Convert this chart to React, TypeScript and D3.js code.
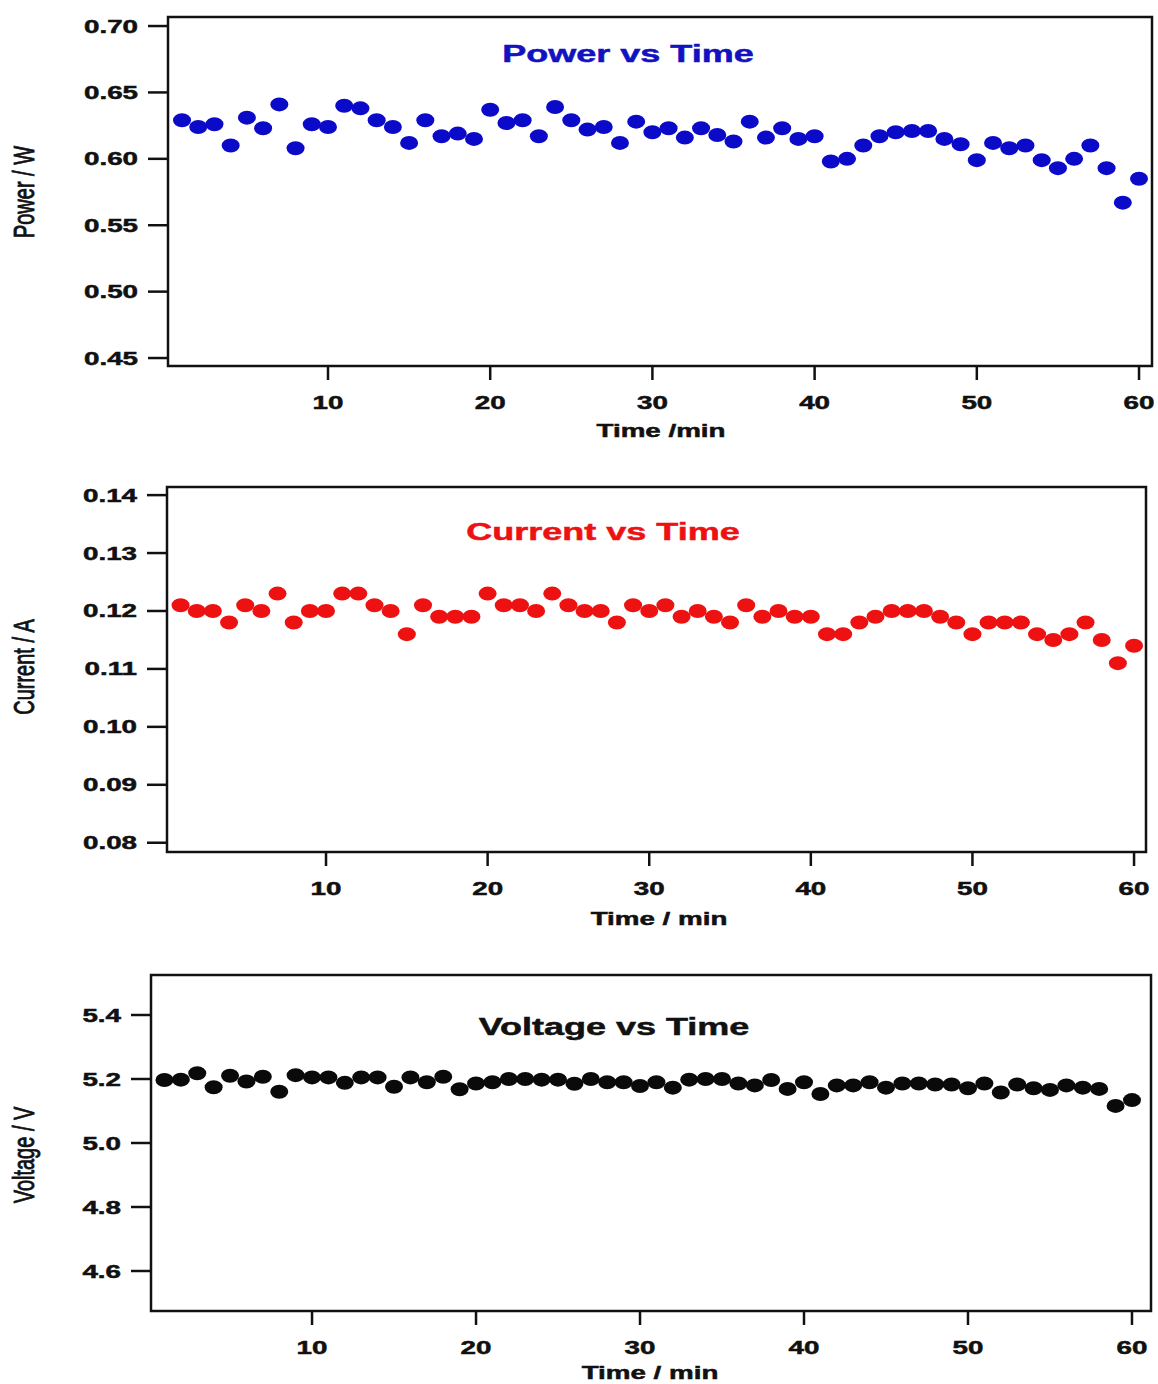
import React from "react";
import * as d3 from "d3";

const time: number[] = d3.range(1, 61);

const power: number[] = [
  0.629, 0.624, 0.626, 0.610, 0.631, 0.623, 0.641, 0.608, 0.626, 0.624,
  0.640, 0.638, 0.629, 0.624, 0.612, 0.629, 0.617, 0.619, 0.615, 0.637,
  0.627, 0.629, 0.617, 0.639, 0.629, 0.622, 0.624, 0.612, 0.628, 0.620,
  0.623, 0.616, 0.623, 0.618, 0.613, 0.628, 0.616, 0.623, 0.615, 0.617,
  0.598, 0.600, 0.610, 0.617, 0.620, 0.621, 0.621, 0.615, 0.611, 0.599,
  0.612, 0.608, 0.610, 0.599, 0.593, 0.600, 0.610, 0.593, 0.567, 0.585,
];

const current: number[] = [
  0.121, 0.120, 0.120, 0.118, 0.121, 0.120, 0.123, 0.118, 0.120, 0.120,
  0.123, 0.123, 0.121, 0.120, 0.116, 0.121, 0.119, 0.119, 0.119, 0.123,
  0.121, 0.121, 0.120, 0.123, 0.121, 0.120, 0.120, 0.118, 0.121, 0.120,
  0.121, 0.119, 0.120, 0.119, 0.118, 0.121, 0.119, 0.120, 0.119, 0.119,
  0.116, 0.116, 0.118, 0.119, 0.120, 0.120, 0.120, 0.119, 0.118, 0.116,
  0.118, 0.118, 0.118, 0.116, 0.115, 0.116, 0.118, 0.115, 0.111, 0.114,
];

const voltage: number[] = [
  5.197, 5.198, 5.218, 5.174, 5.210, 5.192, 5.207, 5.160, 5.212, 5.205,
  5.205, 5.188, 5.205, 5.205, 5.176, 5.205, 5.190, 5.207, 5.168, 5.186,
  5.190, 5.200, 5.200, 5.198, 5.198, 5.185, 5.200, 5.190, 5.190, 5.178,
  5.190, 5.173, 5.198, 5.200, 5.200, 5.186, 5.180, 5.197, 5.169, 5.190,
  5.153, 5.180, 5.180, 5.190, 5.173, 5.186, 5.186, 5.183, 5.183, 5.171,
  5.186, 5.158, 5.183, 5.171, 5.166, 5.180, 5.173, 5.169, 5.116, 5.134,
];

const xTicks: number[] = [10, 20, 30, 40, 50, 60];
const powerTicks: number[] = [0.45, 0.5, 0.55, 0.6, 0.65, 0.7];
const currentTicks: number[] = [0.08, 0.09, 0.1, 0.11, 0.12, 0.13, 0.14];
const voltageTicks: number[] = [4.6, 4.8, 5.0, 5.2, 5.4];

const SX = 1.5;
const FONT = "'Liberation Sans', Arial, sans-serif";

type PanelProps = {
  values: number[];
  color: string;
  title: string;
  titleColor: string;
  titleX: number;
  titleY: number;
  yLabel: string;
  yLabelY: number;
  xLabel: string;
  xLabelX: number;
  xLabelY: number;
  yTicks: number[];
  yFmt: (v: number) => string;
  left: number;
  right: number;
  top: number;
  bottom: number;
  xDomain: [number, number];
  yDomain: [number, number];
};

function STxt(props: {
  x: number;
  y: number;
  anchor: string;
  size: number;
  weight?: string;
  fill?: string;
  children: React.ReactNode;
}) {
  const fill = props.fill || "#111";
  return (
    <text
      transform={`translate(${props.x},${props.y}) scale(${SX},1)`}
      textAnchor={props.anchor as any}
      fontSize={props.size}
      fontWeight={props.weight || "bold"}
      fill={fill}
      stroke={fill}
      strokeWidth={0.5}
      fontFamily={FONT}
    >
      {props.children}
    </text>
  );
}

function Panel(p: PanelProps) {
  const x = d3.scaleLinear().domain(p.xDomain).range([p.left, p.right]);
  const y = d3.scaleLinear().domain(p.yDomain).range([p.bottom, p.top]);
  return (
    <g>
      {p.values.map((v, i) => (
        <ellipse
          key={i}
          cx={x(time[i])}
          cy={y(v)}
          rx={9}
          ry={7}
          fill={p.color}
        />
      ))}
      <rect
        x={p.left}
        y={p.top}
        width={p.right - p.left}
        height={p.bottom - p.top}
        fill="none"
        stroke="#111"
        strokeWidth={2.5}
      />
      {p.yTicks.map((t) => (
        <g key={"y" + t}>
          <line
            x1={p.left - 20}
            x2={p.left}
            y1={y(t)}
            y2={y(t)}
            stroke="#111"
            strokeWidth={2.5}
          />
          <STxt x={p.left - 30} y={y(t) + 6.5} anchor="end" size={18.5}>
            {p.yFmt(t)}
          </STxt>
        </g>
      ))}
      {xTicks.map((t) => (
        <g key={"x" + t}>
          <line
            x1={x(t)}
            x2={x(t)}
            y1={p.bottom}
            y2={p.bottom + 14}
            stroke="#111"
            strokeWidth={2.5}
          />
          <STxt x={x(t)} y={p.bottom + 43} anchor="middle" size={18.5}>
            {String(t)}
          </STxt>
        </g>
      ))}
      <STxt x={p.xLabelX} y={p.xLabelY} anchor="middle" size={18.5}>
        {p.xLabel}
      </STxt>
      <STxt
        x={p.titleX}
        y={p.titleY}
        anchor="middle"
        size={24}
        fill={p.titleColor}
      >
        {p.title}
      </STxt>
      <text
        transform={`translate(34,${p.yLabelY}) scale(${SX},1) rotate(-90)`}
        textAnchor="middle"
        fontSize={20}
        fontFamily={FONT}
        fill="#111"
        stroke="#111"
        strokeWidth={0.6}
      >
        {p.yLabel}
      </text>
    </g>
  );
}

export default function App() {
  return (
    <svg
      width={1158}
      height={1384}
      style={{ position: "absolute", left: 0, top: 0, background: "#fff" }}
    >
      <rect x={0} y={0} width={1158} height={1384} fill="#fff" />
      <Panel
        values={power}
        color="#0a0ac8"
        title="Power vs Time"
        titleColor="#1212c0"
        titleX={628}
        titleY={62}
        yLabel="Power / W"
        yLabelY={192}
        xLabel="Time /min"
        xLabelX={661}
        xLabelY={437}
        yTicks={powerTicks}
        yFmt={d3.format(".2f")}
        left={168}
        right={1152}
        top={17}
        bottom={366}
        xDomain={[0.136, 60.8]}
        yDomain={[0.444, 0.7068]}
      />
      <Panel
        values={current}
        color="#ee1111"
        title="Current vs Time"
        titleColor="#ee1111"
        titleX={603}
        titleY={540}
        yLabel="Current / A"
        yLabelY={667}
        xLabel="Time / min"
        xLabelX={659}
        xLabelY={925}
        yTicks={currentTicks}
        yFmt={d3.format(".2f")}
        left={167}
        right={1146}
        top={487}
        bottom={852}
        xDomain={[0.16, 60.74]}
        yDomain={[0.0784, 0.1414]}
      />
      <Panel
        values={voltage}
        color="#0a0a0a"
        title="Voltage vs Time"
        titleColor="#111"
        titleX={614}
        titleY={1035}
        yLabel="Voltage / V"
        yLabelY={1155}
        xLabel="Time / min"
        xLabelX={650}
        xLabelY={1379}
        yTicks={voltageTicks}
        yFmt={d3.format(".1f")}
        left={151}
        right={1151}
        top={975}
        bottom={1311}
        xDomain={[0.18, 61.16]}
        yDomain={[4.475, 5.525]}
      />
    </svg>
  );
}
